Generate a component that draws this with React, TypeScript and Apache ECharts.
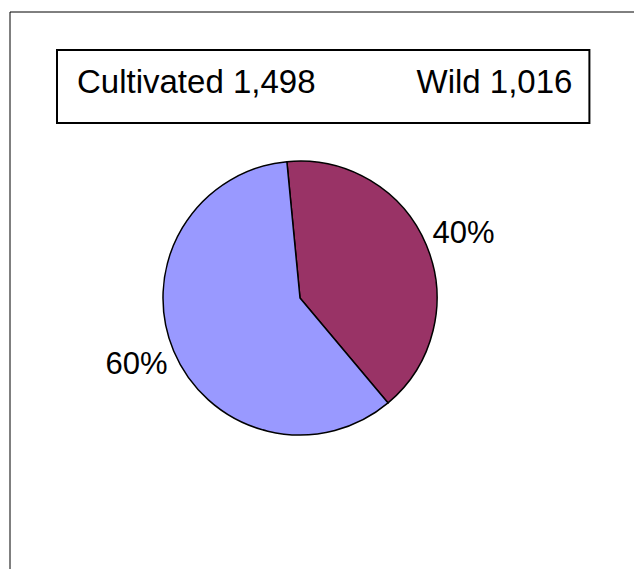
import React, { useEffect, useRef } from "react";
import * as echarts from "echarts";

const sliceNames = ["Wild", "Cultivated"];
const sliceValues = [1016, 1498];
const sliceColors = ["#993366", "#9999FF"];
const legendOrder = ["Cultivated", "Wild"];

export default function App() {
  const ref = useRef<HTMLDivElement>(null);
  useEffect(() => {
    if (!ref.current) return;
    const chart = echarts.init(ref.current, null, { renderer: "svg" });
    const data = sliceNames.map((n, i) => ({
      name: n,
      value: sliceValues[i],
      itemStyle: { color: sliceColors[i] },
    }));
    const fmt = (v: number) => v.toLocaleString("en-US");
    chart.setOption({
      animation: false,
      backgroundColor: "#fff",
      graphic: [
        {
          type: "rect",
          shape: { x: 2, y: 4, width: 1000, height: 1000 },
          style: { fill: "none", stroke: "#000", lineWidth: 1 },
          silent: true,
        },
      ],
      legend: {
        data: legendOrder,
        left: 49,
        top: 42,
        icon: "none",
        itemWidth: 0,
        itemHeight: 10,
        itemGap: 96,
        padding: [13, 17, 24, 15],
        borderColor: "#000",
        borderWidth: 2,
        selectedMode: false,
        textStyle: {
          fontFamily: "Liberation Sans, Arial, sans-serif",
          fontSize: 33,
          lineHeight: 36,
          color: "#000",
        },
        formatter: (name: string) => {
          const i = sliceNames.indexOf(name);
          return name + " " + fmt(sliceValues[i]);
        },
      },
      series: [
        {
          type: "pie",
          center: [292, 290],
          radius: [0, 137],
          startAngle: 95.5,
          clockwise: true,
          silent: true,
          label: { show: false },
          labelLine: { show: false },
          itemStyle: { borderColor: "#000", borderWidth: 1.5 },
          emphasis: { disabled: true },
          data,
        },
        {
          type: "pie",
          center: [292, 290],
          radius: [161, 185],
          startAngle: 94.5,
          clockwise: true,
          silent: true,
          labelLine: { show: false },
          emphasis: { disabled: true },
          label: {
            show: true,
            position: "inside",
            fontFamily: "Liberation Sans, Arial, sans-serif",
            fontSize: 31,
            color: "#000",
            formatter: (p: any) => Math.round(p.percent) + "%",
          },
          itemStyle: { color: "rgba(0,0,0,0)", borderWidth: 0 },
          data: sliceNames.map((n, i) => ({ name: n, value: sliceValues[i] })),
        },
      ],
    });
    return () => chart.dispose();
  }, []);
  return (
    <div
      ref={ref}
      style={{ position: "fixed", left: 8, top: 8, width: 626, height: 561 }}
    />
  );
}
